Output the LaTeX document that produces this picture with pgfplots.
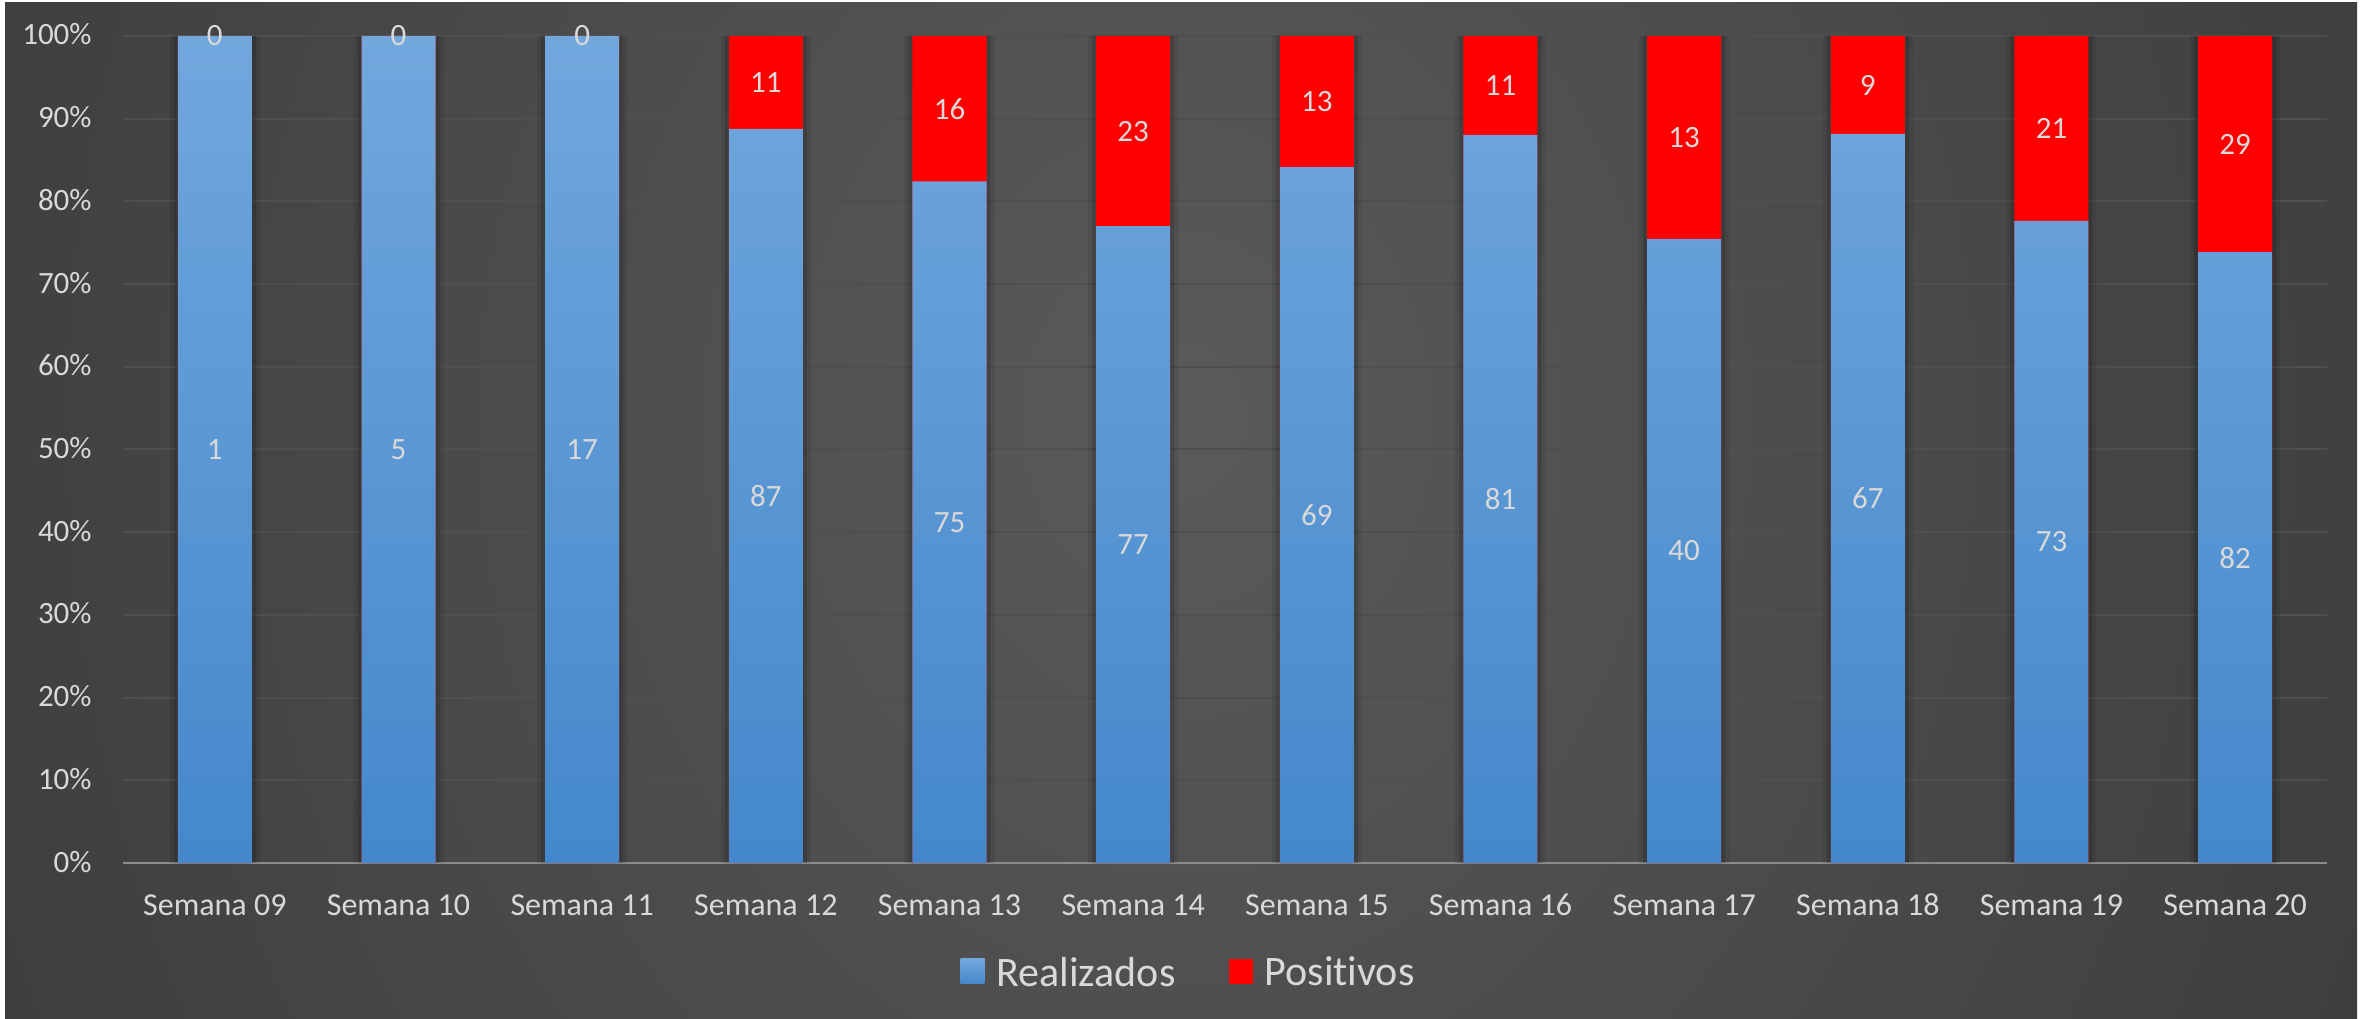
\documentclass[border=0pt]{standalone}
\usepackage{pgfplots}
\pgfplotsset{compat=1.18}
\usepackage{pgfplotstable}
\usepackage{fontspec}
\setmainfont{Carlito}[Ligatures={NoCommon}]
\definecolor{bgin}{HTML}{5A5A5A}
\definecolor{bgout}{HTML}{262626}
\definecolor{txt}{HTML}{D9D9D9}
\definecolor{gridc}{HTML}{4F4F4F}
\definecolor{zeroc}{HTML}{8C8C8C}
\definecolor{btop}{HTML}{71A7DD}
\definecolor{bbot}{HTML}{4488CB}
\definecolor{redc}{HTML}{FF0000}
\pgfplotstableread{
x r p
0 1 0
1 5 0
2 17 0
3 87 11
4 75 16
5 77 23
6 69 13
7 81 11
8 40 13
9 67 9
10 73 21
11 82 29
}\data
\begin{document}
\begin{tikzpicture}
\begin{scope}[x=0.5pt,y=0.5pt]
\useasboundingbox (0,0) rectangle (2366,1018);
\fill[white] (0,0) rectangle (2366,1018);
\begin{scope}
\clip (5,0) rectangle (2357,1015);
\fill[bgout] (5,0) rectangle (2357,1015);
\shade[inner color=bgin, outer color=bgout] (1180,598) ellipse (2360 and 2800);
\end{scope}
\end{scope}
\begin{axis}[
  at={(61.5pt,77.5pt)}, anchor=south west,
  scale only axis, width=1102pt, height=413.5pt,
  xmin=-0.5, xmax=11.5, ymin=0, ymax=100,
  xtick={0,...,11},
  xticklabels={Semana 09,Semana 10,Semana 11,Semana 12,Semana 13,Semana 14,Semana 15,Semana 16,Semana 17,Semana 18,Semana 19,Semana 20},
  ytick={0,10,...,100},
  yticklabels={0\%,10\%,20\%,30\%,40\%,50\%,60\%,70\%,80\%,90\%,100\%},
  major tick length=0pt,
  axis x line*=bottom, axis y line*=left,
  y axis line style={draw=none},
  x axis line style={draw=zeroc, line width=1pt, -},
  ymajorgrids, grid style={gridc, line width=1pt},
  xticklabel style={text=txt, font=\fontsize{16}{19}\selectfont, anchor=base, inner sep=0pt, yshift=-26pt},
  yticklabel style={text=txt, font=\fontsize{15.5}{18}\selectfont, anchor=base east, inner sep=0pt, xshift=-15.5pt, yshift=-4.5pt},
  clip=false,
  legend style={at={(0.483,-0.133)}, anchor=center, draw=none, fill=none,
    text=txt, font=\fontsize{21}{24}\selectfont, legend columns=2,
    nodes={inner sep=0pt},
    /tikz/every even column/.append style={column sep=26.5pt}},
  legend image code/.code={\fill[#1] (0pt,-5.5pt) rectangle (12pt,7pt);},
]
% soft shadows
\addplot[ybar, bar width=45pt, bar shift=0pt, draw=none, fill=black, fill opacity=0.08, forget plot] table[x=x, y expr=100] {\data};
\addplot[ybar, bar width=41pt, bar shift=0pt, draw=none, fill=black, fill opacity=0.14, forget plot] table[x=x, y expr=100] {\data};
% Positivos (stacked on top of Realizados up to 100%)
\addplot[ybar, bar width=37pt, bar shift=0pt, draw=none, fill=redc, forget plot] table[x=x, y expr={100*(\thisrow{r}+\thisrow{p})/(\thisrow{r}+\thisrow{p})}] {\data};
% Realizados
\addplot[ybar, bar width=37pt, bar shift=0pt, draw=none, top color=btop, bottom color=bbot, forget plot] table[x=x, y expr={100*\thisrow{r}/(\thisrow{r}+\thisrow{p})}] {\data};
% labels
\addplot[draw=none, mark=none, nodes near coords, point meta=explicit symbolic,
  nodes near coords align=center,
  every node near coord/.append style={text=txt, font=\fontsize{15.5}{18}\selectfont, inner sep=0pt, anchor=center}, forget plot]
  table[x=x, y expr={50*\thisrow{r}/(\thisrow{r}+\thisrow{p})}, meta=r] {\data};
\addplot[draw=none, mark=none, nodes near coords, point meta=explicit symbolic,
  nodes near coords align=center,
  every node near coord/.append style={text=txt, font=\fontsize{15.5}{18}\selectfont, inner sep=0pt, anchor=center}, forget plot]
  table[x=x, y expr={50*\thisrow{r}/(\thisrow{r}+\thisrow{p})+50}, meta=p] {\data};
\addlegendimage{top color=btop, bottom color=bbot, draw=none}
\addlegendentry{\hspace*{6pt}Realizados}
\addlegendimage{fill=redc, draw=none}
\addlegendentry{\hspace*{6pt}Positivos}
\end{axis}
\end{tikzpicture}
\end{document}
